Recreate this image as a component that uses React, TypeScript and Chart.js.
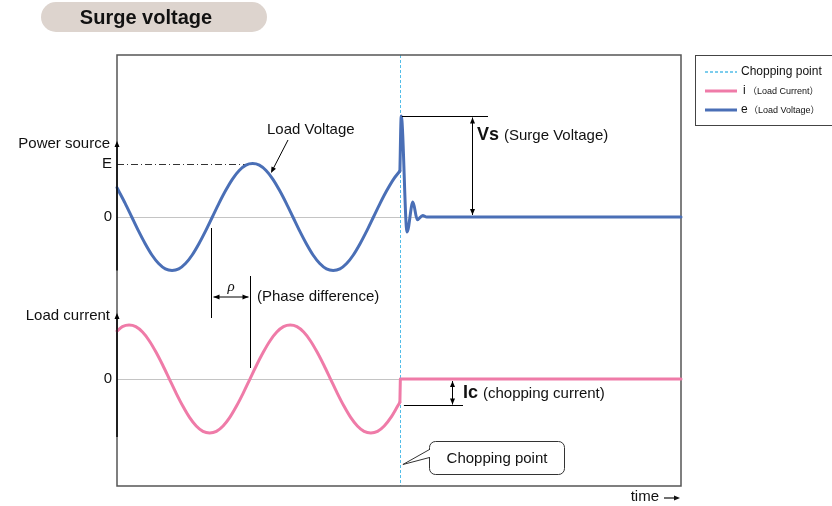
import { useEffect, useRef } from 'react';
import { Chart, registerables } from 'chart.js';

Chart.register(...registerables);

// ---- data (time in degrees of the supply cycle) ----
const timeVoltage = [0, 3, 18, 33, 48, 63, 78, 93, 108, 123, 138, 153, 168, 183, 198, 213, 228, 243, 258, 273, 288, 303, 318, 333, 348, 363, 378, 393, 408, 423, 438, 453, 468, 483, 498, 513, 528, 543, 558, 573, 588, 603, 618, 632];
const loadVoltage = [0.55, 0.5, 0.26, 0, -0.26, -0.5, -0.71, -0.87, -0.97, -1, -0.97, -0.87, -0.71, -0.5, -0.26, 0, 0.26, 0.5, 0.71, 0.87, 0.97, 1, 0.97, 0.87, 0.71, 0.5, 0.26, 0, -0.26, -0.5, -0.71, -0.87, -0.97, -1, -0.97, -0.87, -0.71, -0.5, -0.26, 0, 0.26, 0.5, 0.71, 0.86];
const timeSurge = [632, 635, 648, 661, 671, 683, 692, 1260];
const surgeVoltage = [0.86, 1.89, -0.28, 0.28, -0.05, 0.03, 0, 0];
const timeCurrent = [0, 12, 27, 42, 57, 72, 87, 102, 117, 132, 147, 162, 177, 192, 207, 222, 237, 252, 267, 282, 297, 312, 327, 342, 357, 372, 387, 402, 417, 432, 447, 462, 477, 492, 507, 522, 537, 552, 567, 582, 597, 612, 627, 632];
const loadCurrent = [0.89, 0.97, 1, 0.97, 0.87, 0.71, 0.5, 0.26, 0, -0.26, -0.5, -0.71, -0.87, -0.97, -1, -0.97, -0.87, -0.71, -0.5, -0.26, 0, 0.26, 0.5, 0.71, 0.87, 0.97, 1, 0.97, 0.87, 0.71, 0.5, 0.26, 0, -0.26, -0.5, -0.71, -0.87, -0.97, -1, -0.97, -0.87, -0.71, -0.5, -0.43];
const timeAfterChop = [632, 633, 1260];
const currentAfterChop = [-0.43, 0, 0];

const CHOP_TIME = 632;
const E_LEVEL = 1;
const VOLTAGE_PEAK_TIME = 303;
const SURGE_PEAK = 1.89;
const CHOP_CURRENT = -0.43;
const V_ZERO_CROSS = 213;
const I_ZERO_CROSS = 297;
const X_RANGE = [0, 1260];
const V_RANGE = [-5.03, 3.03];
const I_RANGE = [-1.98, 6.0];

const TITLE = 'Surge voltage';
const LEGEND_LABELS = ['Chopping point', 'i', '（Load Current）', 'e', '（Load Voltage）'];

const BLUE = '#4A6FB6';
const PINK = '#EF7BA8';
const CYAN = '#52BDE8';
const FONT = '"Liberation Sans", Arial, "Noto Sans CJK JP", sans-serif';

function arrowHead(ctx: CanvasRenderingContext2D, x: number, y: number, dx: number, dy: number, len = 6, hw = 2.5) {
  const l = Math.hypot(dx, dy) || 1;
  const ux = dx / l, uy = dy / l;
  ctx.beginPath();
  ctx.moveTo(x, y);
  ctx.lineTo(x - ux * len - uy * hw, y - uy * len + ux * hw);
  ctx.lineTo(x - ux * len + uy * hw, y - uy * len - ux * hw);
  ctx.closePath();
  ctx.fill();
}

function line(ctx: CanvasRenderingContext2D, x1: number, y1: number, x2: number, y2: number) {
  ctx.beginPath();
  ctx.moveTo(x1, y1);
  ctx.lineTo(x2, y2);
  ctx.stroke();
}

function doubleArrow(ctx: CanvasRenderingContext2D, x1: number, y1: number, x2: number, y2: number) {
  ctx.strokeStyle = '#000';
  ctx.fillStyle = '#000';
  ctx.lineWidth = 1;
  line(ctx, x1, y1, x2, y2);
  arrowHead(ctx, x2, y2, x2 - x1, y2 - y1);
  arrowHead(ctx, x1, y1, x1 - x2, y1 - y2);
}

const decorations = {
  id: 'decorations',
  beforeDatasetsDraw(chart: any) {
    const { ctx, chartArea: a, scales } = chart;
    const px = (v: number) => scales.x.getPixelForValue(v);
    const pv = (v: number) => scales.yV.getPixelForValue(v);
    const pi = (v: number) => scales.yI.getPixelForValue(v);
    ctx.save();
    ctx.strokeStyle = '#c4c4c4';
    ctx.lineWidth = 1;
    line(ctx, a.left, Math.round(pv(0)) + 0.5, a.right, Math.round(pv(0)) + 0.5);
    line(ctx, a.left, Math.round(pi(0)) + 0.5, a.right, Math.round(pi(0)) + 0.5);
    ctx.strokeStyle = '#333';
    ctx.setLineDash([7, 3, 1, 3]);
    line(ctx, a.left, Math.round(pv(E_LEVEL)) + 0.5, px(VOLTAGE_PEAK_TIME), Math.round(pv(E_LEVEL)) + 0.5);
    ctx.strokeStyle = CYAN;
    ctx.setLineDash([3, 2]);
    const cx = Math.round(px(CHOP_TIME)) + 0.5;
    line(ctx, cx, a.top, cx, a.bottom);
    ctx.setLineDash([]);
    ctx.strokeStyle = '#555';
    ctx.lineWidth = 1.5;
    ctx.strokeRect(a.left, a.top, a.right - a.left, a.bottom - a.top);
    ctx.restore();
  },
  afterDatasetsDraw(chart: any) {
    const { ctx, chartArea: a, scales } = chart;
    const px = (v: number) => scales.x.getPixelForValue(v);
    const pv = (v: number) => scales.yV.getPixelForValue(v);
    const pi = (v: number) => scales.yI.getPixelForValue(v);
    ctx.save();
    ctx.textBaseline = 'middle';
    ctx.strokeStyle = '#000';

    // axes (black) with arrows
    ctx.lineWidth = 1.5;
    ctx.fillStyle = '#000';
    line(ctx, a.left, pv(-1), a.left, 146);
    arrowHead(ctx, a.left, 141, 0, -1, 6, 2.5);
    line(ctx, a.left, 437, a.left, 318);
    arrowHead(ctx, a.left, 313, 0, -1, 6, 2.5);

    // axis labels
    ctx.fillStyle = '#111';
    ctx.font = `15px ${FONT}`;
    ctx.textAlign = 'right';
    ctx.fillText('Power source', 110, 144);
    ctx.fillText('E', 112, pv(E_LEVEL));
    ctx.fillText('0', 112, pv(0));
    ctx.fillText('Load current', 110, 316);
    ctx.fillText('0', 112, pi(0));

    // Load Voltage label + leader
    ctx.textAlign = 'left';
    ctx.fillText('Load Voltage', 267, 130);
    ctx.strokeStyle = '#000';
    ctx.fillStyle = '#000';
    ctx.lineWidth = 1;
    line(ctx, 288, 140, 272, 171);
    arrowHead(ctx, 271, 173, -16, 31, 6, 2.5);

    // Vs annotation
    const sy = Math.round(pv(SURGE_PEAK)) + 0.5;
    line(ctx, px(CHOP_TIME) + 2, sy, 488, sy);
    doubleArrow(ctx, 472.5, sy + 1, 472.5, pv(0) - 2);
    ctx.fillStyle = '#111';
    ctx.font = `bold 18px ${FONT}`;
    ctx.fillText('Vs', 477, 135);
    ctx.font = `15px ${FONT}`;
    ctx.fillText('(Surge Voltage)', 504, 136);

    // Ic annotation
    const iy = Math.round(pi(CHOP_CURRENT)) + 3.5;
    ctx.strokeStyle = '#000';
    ctx.lineWidth = 1;
    line(ctx, px(CHOP_TIME) + 4, iy, 463, iy);
    doubleArrow(ctx, 452.5, pi(0) + 2, 452.5, iy - 1);
    ctx.fillStyle = '#111';
    ctx.font = `bold 18px ${FONT}`;
    ctx.fillText('Ic', 463, 393);
    ctx.font = `15px ${FONT}`;
    ctx.fillText('(chopping current)', 483, 394);

    // phase difference
    const x1 = Math.round(px(V_ZERO_CROSS)) - 0.5;
    const x2 = Math.round(px(I_ZERO_CROSS)) + 0.5;
    ctx.strokeStyle = '#000';
    line(ctx, x1, 228, x1, 318);
    line(ctx, x2, 276, x2, 368);
    doubleArrow(ctx, x1 + 2, 297, x2 - 2, 297);
    ctx.fillStyle = '#111';
    ctx.font = `italic 15px "Liberation Serif", serif`;
    ctx.textAlign = 'center';
    ctx.fillText('ρ', (x1 + x2) / 2, 287);
    ctx.textAlign = 'left';
    ctx.font = `15px ${FONT}`;
    ctx.fillText('(Phase difference)', 257, 297);

    // callout
    ctx.strokeStyle = '#333';
    ctx.lineWidth = 1;
    ctx.fillStyle = '#fff';
    ctx.beginPath();
    ctx.roundRect(429.5, 441.5, 135, 33, 6);
    ctx.fill();
    ctx.stroke();
    ctx.fillStyle = '#fff';
    ctx.fillRect(428, 450, 3, 7);
    ctx.beginPath();
    ctx.moveTo(429.5, 449.5);
    ctx.lineTo(px(CHOP_TIME) + 3, 464.5);
    ctx.lineTo(429.5, 457.5);
    ctx.stroke();
    ctx.fillStyle = '#111';
    ctx.textAlign = 'center';
    ctx.fillText('Chopping point', 497, 459);

    // time label with arrow
    ctx.textAlign = 'right';
    ctx.fillText('time', 659, 497);
    ctx.strokeStyle = '#111';
    ctx.fillStyle = '#111';
    ctx.lineWidth = 1.2;
    line(ctx, 664, 498, 676, 498);
    arrowHead(ctx, 680, 498, 1, 0, 6, 2.5);

    // legend
    ctx.textAlign = 'left';
    ctx.strokeStyle = '#444';
    ctx.lineWidth = 1;
    ctx.strokeRect(695.5, 55.5, 150, 70);
    ctx.strokeStyle = CYAN;
    ctx.lineWidth = 1.5;
    ctx.setLineDash([3, 2]);
    line(ctx, 705, 72, 737, 72);
    ctx.setLineDash([]);
    ctx.lineWidth = 3;
    ctx.strokeStyle = PINK;
    line(ctx, 705, 91, 737, 91);
    ctx.strokeStyle = BLUE;
    line(ctx, 705, 110, 737, 110);
    ctx.fillStyle = '#111';
    ctx.font = `12px ${FONT}`;
    ctx.fillText(LEGEND_LABELS[0], 741, 72);
    ctx.fillText(LEGEND_LABELS[1], 743, 91);
    ctx.fillText(LEGEND_LABELS[3], 741, 110);
    ctx.font = `9px ${FONT}`;
    ctx.fillText(LEGEND_LABELS[2], 748, 92);
    ctx.fillText(LEGEND_LABELS[4], 749, 111);

    // title pill
    ctx.fillStyle = '#DDD4CE';
    ctx.beginPath();
    ctx.roundRect(41, 2, 226, 30, 15);
    ctx.fill();
    ctx.fillStyle = '#111';
    ctx.font = `bold 20px ${FONT}`;
    ctx.textAlign = 'center';
    ctx.fillText(TITLE, 146, 18);

    ctx.restore();
  },
};

const pts = (xs: number[], ys: number[]) => xs.map((t, i) => ({ x: t, y: ys[i] }));

export default function App() {
  const ref = useRef<HTMLCanvasElement>(null);
  useEffect(() => {
    if (!ref.current) return;
    const base = { borderWidth: 3, pointRadius: 0, clip: false, borderJoinStyle: 'round', borderCapStyle: 'round' };
    const chart = new Chart(ref.current, {
      type: 'line',
      data: {
        datasets: [
          { ...base, label: 'e (Load Voltage)', data: pts(timeVoltage, loadVoltage), borderColor: BLUE, tension: 0.3, yAxisID: 'yV' },
          { ...base, label: 'e surge', data: pts(timeSurge, surgeVoltage), borderColor: BLUE, cubicInterpolationMode: 'monotone', yAxisID: 'yV' },
          { ...base, label: 'i (Load Current)', data: pts(timeCurrent, loadCurrent), borderColor: PINK, tension: 0.3, yAxisID: 'yI' },
          { ...base, label: 'i after chop', data: pts(timeAfterChop, currentAfterChop), borderColor: PINK, tension: 0, yAxisID: 'yI' },
        ],
      } as any,
      options: {
        responsive: false,
        animation: false,
        devicePixelRatio: 1,
        layout: { padding: { left: 117, right: 151, top: 55, bottom: 20 } },
        scales: {
          x: { type: 'linear', min: X_RANGE[0], max: X_RANGE[1], display: false },
          yV: { type: 'linear', min: V_RANGE[0], max: V_RANGE[1], display: false },
          yI: { type: 'linear', min: I_RANGE[0], max: I_RANGE[1], display: false },
        },
        plugins: { legend: { display: false }, tooltip: { enabled: false } },
      } as any,
      plugins: [decorations],
    });
    return () => chart.destroy();
  }, []);
  return (
    <div style={{ position: 'fixed', left: 0, top: 0, width: 832, height: 506, background: '#fff' }}>
      <canvas ref={ref} width={832} height={506} style={{ display: 'block' }} />
    </div>
  );
}
